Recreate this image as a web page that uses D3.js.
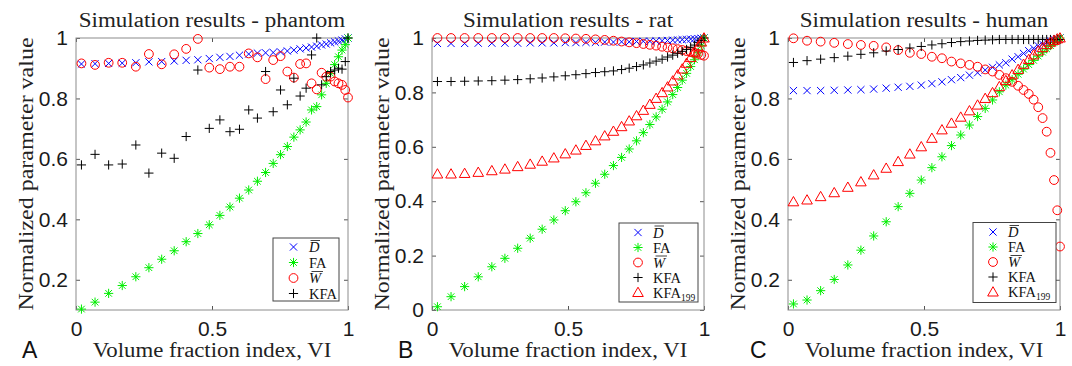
<!DOCTYPE html>
<html><head><meta charset="utf-8">
<script src="https://cdn.jsdelivr.net/npm/d3@7"></script>
<style>body{margin:0;background:#fff} svg{display:block}</style>
</head><body>
<svg id="c" width="1072" height="366"></svg>
<script>
// ---------- data ----------
const vi = [0.020, 0.070, 0.120, 0.170, 0.220, 0.268, 0.315, 0.361, 0.405, 0.448, 0.490, 0.529, 0.566, 0.601, 0.635, 0.667, 0.697, 0.725, 0.752, 0.777, 0.801, 0.824, 0.846, 0.866, 0.885, 0.903, 0.920, 0.936, 0.951, 0.965, 0.978, 0.990, 1.000];

const phantomD   = [0.914, 0.915, 0.916, 0.917, 0.918, 0.921, 0.922, 0.924, 0.926, 0.928, 0.932, 0.936, 0.939, 0.943, 0.947, 0.950, 0.951, 0.952, 0.954, 0.957, 0.960, 0.964, 0.967, 0.970, 0.973, 0.977, 0.980, 0.984, 0.987, 0.990, 0.993, 0.997, 1.000];
const phantomFA  = [0.103, 0.126, 0.155, 0.181, 0.210, 0.240, 0.268, 0.296, 0.326, 0.353, 0.382, 0.413, 0.441, 0.470, 0.497, 0.526, 0.555, 0.585, 0.614, 0.641, 0.672, 0.696, 0.722, 0.762, 0.773, 0.812, 0.850, 0.883, 0.912, 0.938, 0.960, 0.978, 1.000];
const phantomW   = [0.916, 0.911, 0.918, 0.918, 0.905, 0.947, 0.913, 0.946, 0.964, 0.997, 0.902, 0.897, 0.905, 0.905, 0.949, 0.936, 0.864, 0.927, 0.940, 0.889, 0.869, 0.914, 0.916, 0.850, 0.830, 0.885, 0.872, 0.872, 0.856, 0.850, 0.845, 0.828, 0.803];
const phantomKFA = [0.580, 0.615, 0.580, 0.583, 0.646, 0.553, 0.619, 0.602, 0.674, 0.894, 0.701, 0.729, 0.690, 0.698, 0.762, 0.735, 0.889, 0.756, 0.828, 0.779, 0.867, 0.808, 0.834, 0.944, 1.000, 0.845, 0.872, 0.889, 0.894, 0.900, 0.897, 0.922, 1.000];

const ratD      = [0.980, 0.980, 0.980, 0.981, 0.981, 0.981, 0.981, 0.982, 0.982, 0.982, 0.983, 0.983, 0.984, 0.984, 0.985, 0.985, 0.986, 0.986, 0.987, 0.988, 0.988, 0.989, 0.990, 0.991, 0.992, 0.993, 0.994, 0.995, 0.996, 0.997, 0.998, 0.999, 1.000];
const ratFA     = [0.012, 0.049, 0.086, 0.122, 0.159, 0.190, 0.227, 0.264, 0.297, 0.331, 0.365, 0.398, 0.431, 0.466, 0.499, 0.531, 0.561, 0.592, 0.622, 0.652, 0.682, 0.710, 0.738, 0.765, 0.792, 0.818, 0.845, 0.870, 0.895, 0.920, 0.946, 0.972, 1.000];
const ratW      = [1.000, 1.000, 1.000, 1.000, 1.000, 1.000, 1.000, 1.000, 1.000, 1.000, 0.999, 0.998, 0.997, 0.995, 0.993, 0.990, 0.987, 0.984, 0.981, 0.978, 0.975, 0.972, 0.968, 0.965, 0.962, 0.959, 0.956, 0.952, 0.949, 0.946, 0.942, 0.938, 0.935];
const ratKFA    = [0.840, 0.840, 0.841, 0.842, 0.843, 0.845, 0.847, 0.850, 0.853, 0.857, 0.861, 0.865, 0.869, 0.873, 0.876, 0.879, 0.884, 0.889, 0.895, 0.901, 0.908, 0.915, 0.922, 0.930, 0.937, 0.944, 0.951, 0.958, 0.966, 0.974, 0.983, 0.991, 1.000];
const ratKFA199 = [0.500, 0.500, 0.502, 0.506, 0.512, 0.518, 0.527, 0.536, 0.547, 0.559, 0.574, 0.588, 0.605, 0.622, 0.640, 0.657, 0.674, 0.695, 0.714, 0.734, 0.756, 0.778, 0.799, 0.820, 0.842, 0.864, 0.886, 0.907, 0.928, 0.948, 0.967, 0.985, 1.000];

const humanD      = [0.826, 0.826, 0.826, 0.827, 0.828, 0.829, 0.831, 0.834, 0.837, 0.840, 0.844, 0.849, 0.855, 0.862, 0.869, 0.877, 0.885, 0.894, 0.903, 0.911, 0.918, 0.930, 0.938, 0.949, 0.958, 0.966, 0.974, 0.980, 0.986, 0.990, 0.995, 0.997, 1.000];
const humanFA     = [0.120, 0.133, 0.164, 0.201, 0.249, 0.298, 0.345, 0.392, 0.442, 0.486, 0.530, 0.571, 0.607, 0.644, 0.679, 0.712, 0.740, 0.767, 0.795, 0.822, 0.844, 0.862, 0.880, 0.897, 0.912, 0.926, 0.940, 0.953, 0.964, 0.975, 0.985, 0.993, 1.000];
const humanW      = [0.999, 0.991, 0.988, 0.984, 0.980, 0.977, 0.974, 0.969, 0.960, 0.951, 0.947, 0.938, 0.933, 0.922, 0.916, 0.911, 0.905, 0.896, 0.889, 0.878, 0.867, 0.855, 0.842, 0.828, 0.815, 0.796, 0.771, 0.735, 0.690, 0.620, 0.530, 0.430, 0.310];
const humanKFA    = [0.919, 0.925, 0.930, 0.935, 0.940, 0.946, 0.951, 0.957, 0.962, 0.967, 0.972, 0.977, 0.981, 0.985, 0.988, 0.990, 0.992, 0.993, 0.994, 0.995, 0.995, 0.995, 0.995, 0.995, 0.995, 0.995, 0.995, 0.995, 0.995, 0.995, 0.995, 0.995, 0.995];
const humanKFA199 = [0.458, 0.464, 0.475, 0.488, 0.506, 0.524, 0.547, 0.569, 0.591, 0.616, 0.640, 0.668, 0.696, 0.718, 0.738, 0.759, 0.778, 0.800, 0.819, 0.839, 0.859, 0.878, 0.896, 0.913, 0.929, 0.944, 0.957, 0.968, 0.978, 0.986, 0.992, 0.997, 1.000];

const panelTitles = ["Simulation results - phantom", "Simulation results - rat", "Simulation results - human"];
const panelLetters = ["A", "B", "C"];
const xTicks = [0, 0.5, 1];
const yTicksA = [0.2, 0.4, 0.6, 0.8, 1];
const yTicksB = [0, 0.2, 0.4, 0.6, 0.8, 1];
const yTicksC = [0.2, 0.4, 0.6, 0.8, 1];
const xLabel = "Volume fraction index, VI";
const yLabel = "Normalized parameter value";

// ---------- layout / style ----------
const SERIF = "'Liberation Serif','Times New Roman',serif";
const SANS  = "'Liberation Sans',Arial,sans-serif";
const PW = 272, PH = 272, TOP = 38;
const STY = {
  D:      {sym: 'x', color: '#0000ff', label: {t: 'D', it: true, bar: true}},
  FA:     {sym: '*', color: '#00ee00', label: {t: 'FA'}},
  W:      {sym: 'o', color: '#ff0000', label: {t: 'W', it: true, bar: true}},
  KFA:    {sym: '+', color: '#000000', label: {t: 'KFA'}},
  KFA199: {sym: '^', color: '#ff0000', label: {t: 'KFA', sub: '199'}}
};
const panels = [
  {left: 76,  yDomain: [0.1, 1], yTicks: yTicksA, series: [['D', phantomD], ['FA', phantomFA], ['W', phantomW], ['KFA', phantomKFA]],
   legend: {x: 273, y: 238, w: 66, h: 63, row0: 9, step: 15.5, sx: 20.5, tx: 36}, letterX: 22},
  {left: 432, yDomain: [0, 1], yTicks: yTicksB, series: [['D', ratD], ['FA', ratFA], ['W', ratW], ['KFA', ratKFA], ['KFA199', ratKFA199]],
   legend: {x: 619, y: 223, w: 79, h: 79, row0: 9.5, step: 15, sx: 19, tx: 34}, letterX: 398},
  {left: 788, yDomain: [0.1, 1], yTicks: yTicksC, series: [['D', humanD], ['FA', humanFA], ['W', humanW], ['KFA', humanKFA], ['KFA199', humanKFA199]],
   legend: {x: 973, y: 222.5, w: 83, h: 80, row0: 9.5, step: 15, sx: 20, tx: 35}, letterX: 750}
];

function symPath(type) {
  switch (type) {
    case 'x': { const a = 3.6; return `M${-a},${-a}L${a},${a}M${-a},${a}L${a},${-a}`; }
    case '+': { const a = 4.6; return `M${-a},0L${a},0M0,${-a}L0,${a}`; }
    case '*': { const a = 4.6, b = 3.3; return `M${-a},0L${a},0M0,${-a}L0,${a}M${-b},${-b}L${b},${b}M${-b},${b}L${b},${-b}`; }
    case '^': { return `M0,-5.3L5.3,4L-5.3,4Z`; }
  }
}
function drawSym(g, type, color, cx, cy) {
  if (type === 'o') {
    g.append('circle').attr('cx', cx).attr('cy', cy).attr('r', 4.4)
      .attr('fill', 'none').attr('stroke', color).attr('stroke-width', 1);
  } else {
    g.append('path').attr('d', symPath(type)).attr('transform', `translate(${cx},${cy})`)
      .attr('fill', 'none').attr('stroke', color).attr('stroke-width', 1);
  }
}
function stretch(sel, k) {
  sel.each(function () {
    const L = this.getComputedTextLength();
    d3.select(this).attr('textLength', L * k).attr('lengthAdjust', 'spacingAndGlyphs');
  });
}

const svg = d3.select('#c');

panels.forEach((p, i) => {
  const g = svg.append('g');
  const x = d3.scaleLinear().domain([0, 1]).range([p.left, p.left + PW]);
  const y = d3.scaleLinear().domain(p.yDomain).range([TOP + PH, TOP]);
  const fmt = d3.format('~g');

  // axes (ticks inward on all four sides)
  const axB = g.append('g').attr('transform', `translate(0,${TOP + PH})`)
    .call(d3.axisBottom(x).tickValues(xTicks).tickSize(-4).tickPadding(11).tickFormat(fmt));
  const axT = g.append('g').attr('transform', `translate(0,${TOP})`)
    .call(d3.axisTop(x).tickValues(xTicks).tickSize(-4).tickFormat(''));
  const axL = g.append('g').attr('transform', `translate(${p.left},0)`)
    .call(d3.axisLeft(y).tickValues(p.yTicks).tickSize(-4).tickPadding(8).tickFormat(fmt));
  const axR = g.append('g').attr('transform', `translate(${p.left + PW},0)`)
    .call(d3.axisRight(y).tickValues(p.yTicks).tickSize(-4).tickFormat(''));
  [axB, axT, axL, axR].forEach(a => {
    a.select('.domain').remove();
    a.selectAll('line').attr('stroke', '#555');
    a.selectAll('text').attr('font-family', SANS).attr('font-size', 21).attr('fill', '#1a1a1a');
  });
  g.append('rect').attr('x', p.left).attr('y', TOP).attr('width', PW).attr('height', PH)
    .attr('fill', 'none').attr('stroke', '#8c8c8c').attr('stroke-width', 1);

  // data markers
  p.series.forEach(([key, vals]) => {
    const s = STY[key];
    const sg = g.append('g');
    vals.forEach((v, j) => drawSym(sg, s.sym, s.color, x(vi[j]), y(v)));
  });

  // title
  g.append('text').attr('x', p.left + PW / 2).attr('y', 27).attr('text-anchor', 'middle')
    .attr('font-family', SERIF).attr('font-size', 20).attr('fill', '#222').text(panelTitles[i])
    .call(stretch, 1.15);
  // x label
  g.append('text').attr('x', p.left + PW / 2).attr('y', 357).attr('text-anchor', 'middle')
    .attr('font-family', SERIF).attr('font-size', 20).attr('fill', '#222').text(xLabel)
    .call(stretch, 1.14);
  // y label
  g.append('text').attr('transform', `translate(${p.left - 43},${TOP + PH / 2}) rotate(-90)`)
    .attr('text-anchor', 'middle')
    .attr('font-family', SERIF).attr('font-size', 20).attr('fill', '#222').text(yLabel)
    .call(stretch, 1.2);
  // panel letter
  g.append('text').attr('x', p.letterX).attr('y', 358)
    .attr('font-family', SANS).attr('font-size', 23).attr('fill', '#111').text(panelLetters[i]);

  // legend
  const L = p.legend;
  const lg = g.append('g');
  lg.append('rect').attr('x', L.x).attr('y', L.y).attr('width', L.w).attr('height', L.h)
    .attr('fill', '#fff').attr('stroke', '#444').attr('stroke-width', 1);
  p.series.forEach(([key], k) => {
    const s = STY[key];
    const cy = L.y + L.row0 + k * L.step;
    drawSym(lg, s.sym, s.color, L.x + L.sx, cy);
    const t = lg.append('text').attr('x', L.x + L.tx).attr('y', cy + 5)
      .attr('font-family', SERIF).attr('font-size', 14.5).attr('fill', '#111');
    t.append('tspan').attr('font-style', s.label.it ? 'italic' : 'normal').text(s.label.t);
    if (s.label.sub) t.append('tspan').attr('font-size', 9.5).attr('dy', 3).text(s.label.sub);
    if (s.label.bar) {
      const bb = t.node().getBBox();
      lg.append('line').attr('x1', bb.x + 2.5).attr('x2', bb.x + bb.width)
        .attr('y1', cy - 6.5).attr('y2', cy - 6.5).attr('stroke', '#111').attr('stroke-width', 0.8);
    }
  });
});
</script>
</body></html>
